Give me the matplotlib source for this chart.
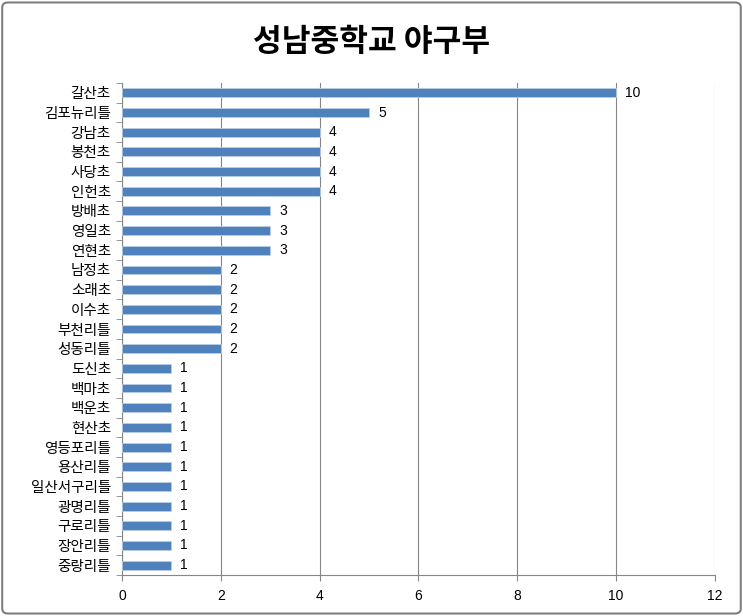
import numpy as np
import matplotlib
matplotlib.use("Agg")
import matplotlib.pyplot as plt
from matplotlib.patches import FancyBboxPatch

plt.rcParams["font.family"] = ["Noto Sans CJK KR", "DejaVu Sans"]

schools = ["갈산초", "김포뉴리틀", "강남초", "봉천초", "사당초", "인헌초",
           "방배초", "영일초", "연현초", "남정초", "소래초", "이수초",
           "부천리틀", "성동리틀", "도신초", "백마초", "백운초", "현산초",
           "영등포리틀", "용산리틀", "일산서구리틀", "광명리틀", "구로리틀",
           "장안리틀", "중랑리틀"]
counts = [10, 5, 4, 4, 4, 4, 3, 3, 3, 2, 2, 2, 2, 2,
          1, 1, 1, 1, 1, 1, 1, 1, 1, 1, 1]
xticks = [0, 2, 4, 6, 8, 10, 12]

BLUE = "#4F81BD"
GRID = "#868686"

fig = plt.figure(figsize=(7.43, 6.16), dpi=100)
ax = fig.add_axes([122 / 743, 1 - 575 / 616, (715 - 122) / 743, (575 - 83) / 616])

y = np.arange(len(schools))
ax.barh(y, counts, height=0.45, color=BLUE, edgecolor="#B9CDE5", lw=0.6, zorder=3)
for yi, c in zip(y, counts):
    ax.text(c + 0.18, yi, str(c), va="center", ha="left", fontsize=10,
            family=["Liberation Sans", "DejaVu Sans"])

ax.set_ylim(len(schools) - 0.5, -0.5)
ax.set_xlim(0, 12)
ax.set_xticks(xticks)
ax.set_xticklabels([str(v) for v in xticks], fontsize=10,
                   family=["Liberation Sans", "DejaVu Sans"])
ax.set_yticks(y)
ax.set_yticklabels(schools, fontsize=10.5)
ax.set_yticks(np.arange(-0.5, len(schools)), minor=True)
ax.tick_params(axis="y", which="major", length=0, pad=8)
ax.tick_params(axis="y", which="minor", length=4, color=GRID, direction="out")
ax.tick_params(axis="x", length=4, color=GRID, direction="out", pad=6)
ax.xaxis.grid(True, color=GRID, lw=0.8, zorder=0)
ax.set_axisbelow(True)
for side in ("top", "right"):
    ax.spines[side].set_visible(False)
for side in ("left", "bottom"):
    ax.spines[side].set_color(GRID)
    ax.spines[side].set_linewidth(0.8)

fig.text(0.5, 1 - 42 / 616, "성남중학교 야구부", ha="center", va="center",
         fontsize=22.5, fontweight="bold")

fig.patches.append(FancyBboxPatch((0.003, 0.004), 0.994, 0.992,
                                  boxstyle="round,pad=0,rounding_size=0.008",
                                  transform=fig.transFigure, fill=False,
                                  ec="#7F7F7F", lw=1.5))

fig.savefig("out.png", dpi=100)
